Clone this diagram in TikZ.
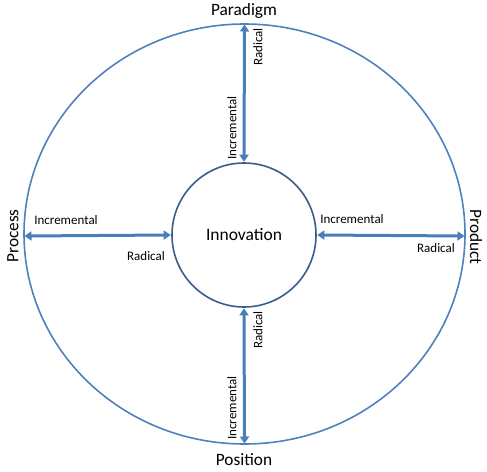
\documentclass[tikz,border=0pt]{standalone}
\usepackage{fontspec}
\setmainfont{Carlito}
\usetikzlibrary{arrows.meta}
\definecolor{outerblue}{HTML}{4F81BD}
\definecolor{innerblue}{HTML}{385D8A}
\definecolor{arrowblue}{HTML}{4A7EBB}
\tikzset{
  ring/.style={draw=outerblue, line width=1.6pt},
  core/.style={draw=innerblue, line width=1.6pt, circle, minimum size=144pt, inner sep=0pt, font=\fontsize{17.5}{20}\selectfont},
  link/.style={draw=arrowblue, line width=3pt, {Triangle[length=7pt,width=9pt]}-{Triangle[length=7pt,width=9pt]}, shorten <=0.5pt, shorten >=0.5pt},
  small/.style={font=\fontsize{13}{15}\selectfont, inner sep=0pt},
  big/.style={font=\fontsize{17.3}{20}\selectfont, inner sep=0pt}
}
\begin{document}
\begin{tikzpicture}[x=1pt,y=-1pt]
\useasboundingbox (0,0) rectangle (487,471);
\draw[ring] (244.5,234) ellipse [x radius=220.5, y radius=210];
\node[core] (inn) at (244,235) {Innovation};
\coordinate (top) at (244.5,24);
\coordinate (bot) at (244.5,444);
\coordinate (lft) at (24,236);
\coordinate (rgt) at (465,236);
\draw[link] (top) -- (inn.north);
\draw[link] (bot) -- (inn.south);
\draw[link] (lft) -- (inn.west);
\draw[link] (rgt) -- (inn.east);
\node[big] (par) at (244,11) {Paradigm};
\node[big] (pos) at (244,460) {Position};
\node[big, rotate=90] (pro) at (13,236) {Process};
\node[big, rotate=-90] (prd) at (476,237) {Product};
\node[small, rotate=90] (ti) at (232,128) {Incremental};
\node[small, rotate=90] (tr) at (258,47) {Radical};
\node[small, rotate=90] (bi) at (232,408) {Incremental};
\node[small, rotate=90] (br) at (258,330) {Radical};
\node[small] (li) at (66,220) {Incremental};
\node[small] (lr) at (146,256) {Radical};
\node[small] (ri) at (352,219) {Incremental};
\node[small] (rr) at (436,248) {Radical};
\end{tikzpicture}
\end{document}
